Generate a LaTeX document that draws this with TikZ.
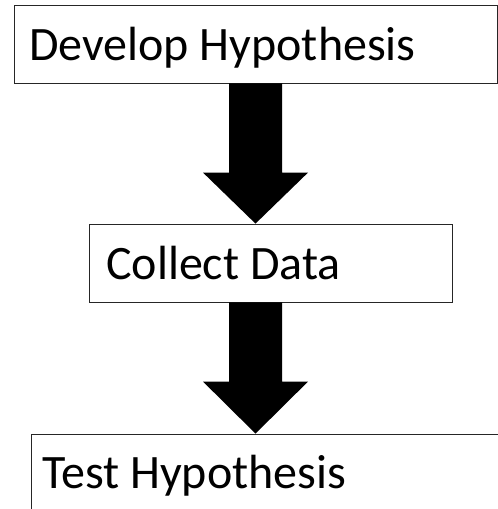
\documentclass[tikz,border=0pt]{standalone}
\usepackage{fontspec}
\setmainfont{Carlito}
\usetikzlibrary{calc}
\begin{document}
\begin{tikzpicture}[x=1pt,y=-1pt,
  stepbox/.style={draw=black!85,line width=0.8pt,rectangle,inner sep=0pt,minimum height=78pt},
  lbl/.style={anchor=base west,inner sep=0pt,font=\fontsize{48}{56}\selectfont},
  blockarrow/.style={fill=black}]
\useasboundingbox (0,0) rectangle (498,509);
\clip (0,0) rectangle (498,509);
\node[stepbox,minimum width=483pt] (a) at (255.5,44) {};
\node[stepbox,minimum width=363pt] (b) at (270.5,263) {};
\node[stepbox,minimum width=489pt] (c) at (275.5,473) {};
\node[lbl] (ta) at (29,60) {Develop Hypothesis};
\node[lbl] (tb) at (106,279) {Collect Data};
\node[lbl] (tc) at (42,488) {Test Hypothesis};
\coordinate (tip1) at (a.south |- b.north);
\coordinate (tip2) at (a.south |- c.north);
\coordinate (s2) at (a.south |- b.south);
\fill[blockarrow] ($(a.south)+(-26.5,0)$) -- ($(a.south)+(26.5,0)$) -- ($(tip1)+(26.5,-51)$) -- ($(tip1)+(52.5,-51)$) -- (tip1) -- ($(tip1)+(-52.5,-51)$) -- ($(tip1)+(-26.5,-51)$) -- cycle;
\fill[blockarrow] ($(s2)+(-26.5,0)$) -- ($(s2)+(26.5,0)$) -- ($(tip2)+(26.5,-52)$) -- ($(tip2)+(52.5,-52)$) -- (tip2) -- ($(tip2)+(-52.5,-52)$) -- ($(tip2)+(-26.5,-52)$) -- cycle;
\end{tikzpicture}
\end{document}
